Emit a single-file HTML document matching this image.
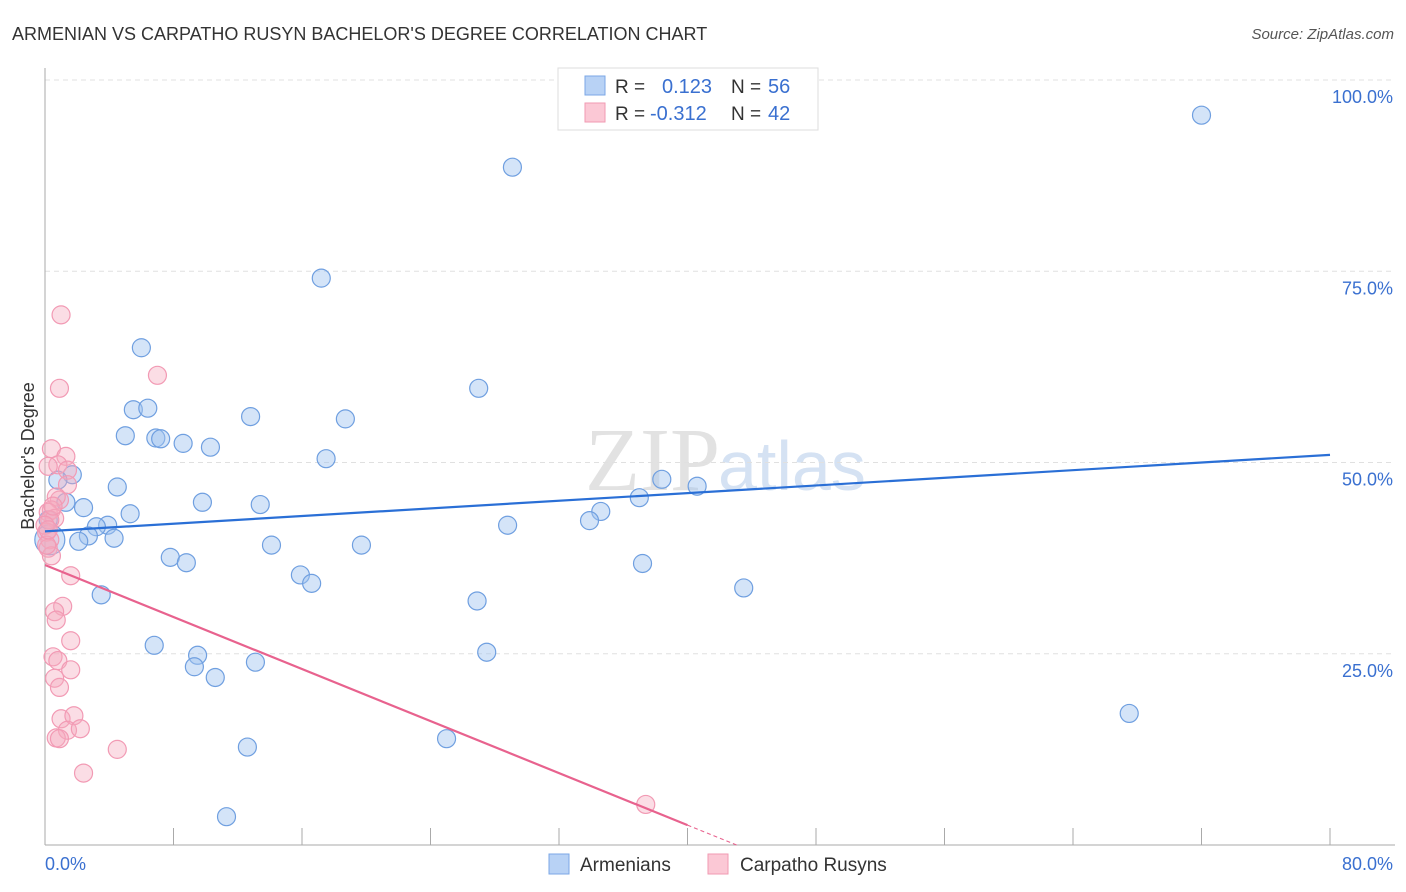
<!DOCTYPE html>
<html><head><meta charset="utf-8"><style>
body{margin:0;background:#fff;font-family:"Liberation Sans",sans-serif;}
svg{display:block}
</style></head><body>
<svg id="chart" width="1406" height="892">
<text x="12" y="40" font-size="18" fill="#333">ARMENIAN VS CARPATHO RUSYN BACHELOR'S DEGREE CORRELATION CHART</text>
<text x="1394" y="39" font-size="15" fill="#555" font-style="italic" text-anchor="end">Source: ZipAtlas.com</text>
<text x="720" y="490" font-size="90" fill="#e2e2e2" font-family="Liberation Serif" text-anchor="end">ZIP</text>
<text x="718" y="490" font-size="70" fill="#d5e2f3">atlas</text>
<text transform="translate(34,456) rotate(-90)" font-size="18" fill="#333" text-anchor="middle">Bachelor's Degree</text>
<g id="grid"></g><g id="pts"></g><g id="lines"></g>
<g>
<rect x="558" y="68" width="260" height="62" fill="#fff" stroke="#ddd"/>
<rect x="585" y="76" width="20" height="19" fill="#b8d2f5" stroke="#7ba7e6"/>
<rect x="585" y="103" width="20" height="19" fill="#fbc8d5" stroke="#f09ab2"/>
<text x="615" y="93" font-size="19" fill="#333">R =</text><text x="662" y="93" font-size="20" fill="#3a70d0">0.123</text>
<text x="731" y="93" font-size="19" fill="#333">N =</text><text x="768" y="93" font-size="20" fill="#3a70d0">56</text>
<text x="615" y="120" font-size="19" fill="#333">R =</text><text x="650" y="120" font-size="20" fill="#3a70d0">-0.312</text>
<text x="731" y="120" font-size="19" fill="#333">N =</text><text x="768" y="120" font-size="20" fill="#3a70d0">42</text>
</g>
<g>
<rect x="549" y="854" width="20" height="20" fill="#b8d2f5" stroke="#7ba7e6"/>
<text x="580" y="871" font-size="19" fill="#333">Armenians</text>
<rect x="708" y="854" width="20" height="20" fill="#fbc8d5" stroke="#f09ab2"/>
<text x="740" y="871" font-size="19" fill="#333">Carpatho Rusyns</text>
</g>
<text x="45" y="870" font-size="18" fill="#3a70d0">0.0%</text>
<text x="1393" y="870" font-size="18" fill="#3a70d0" text-anchor="end">80.0%</text>
</svg>
<script>
const yTicks=[100,75,50,25];
const yTickLabels=["100.0%","75.0%","50.0%","25.0%"];
const xTicks=[8,16,24,32,40,48,56,64,72,80];
const blueX=[72.0,29.1,17.2,6.0,27.0,5.5,6.4,12.8,18.7,5.0,6.9,7.2,8.6,17.5,10.3,1.7,0.8,4.5,9.8,1.3,13.4,2.4,5.3,34.6,37.0,38.4,40.6,33.9,28.8,3.9,3.2,2.7,2.1,4.3,14.1,19.7,7.8,8.8,15.9,16.6,37.2,43.5,3.5,26.9,6.8,9.5,9.3,13.1,10.6,27.5,67.5,25.0,12.6,11.3,0.3,0.2];
const blueY=[95.4,88.6,74.1,65.0,59.7,56.9,57.1,56.0,55.7,53.5,53.2,53.1,52.5,50.5,52.0,48.4,47.7,46.8,44.8,44.8,44.5,44.1,43.3,43.6,45.4,47.8,46.9,42.4,41.8,41.8,41.6,40.4,39.7,40.1,39.2,39.2,37.6,36.9,35.3,34.2,36.8,33.6,32.7,31.9,26.1,24.8,23.3,23.9,21.9,25.2,17.2,13.9,12.8,3.7,39.9,42.5];
const pinkX=[1.0,0.9,7.0,0.4,1.3,0.8,0.2,1.4,1.4,0.9,0.7,0.4,0.2,0.6,0.3,0.1,0.3,0.2,0.4,1.6,1.1,0.6,0.7,1.6,0.5,0.8,1.6,0.6,0.9,1.0,1.8,1.4,2.2,0.7,0.9,2.4,4.5,37.4,0.1,0.5,0.0,0.2];
const pinkY=[69.3,59.7,61.4,51.8,50.8,49.7,49.5,49.0,47.1,45.1,45.5,43.8,43.5,42.7,42.5,40.9,39.9,38.8,37.8,35.2,31.2,30.5,29.4,26.7,24.6,24.1,22.9,21.8,20.6,16.5,16.9,15.0,15.2,14.0,13.9,9.4,12.5,5.3,39.2,44.3,41.8,41.2];
const blueTrend=[41.0,51.0];
const pinkTrend=[36.6,-0.85];
const sx=v=>45+v/80*1285, sy=v=>845-v*7.65;
const NS="http://www.w3.org/2000/svg";
function mk(t,a,p){const e=document.createElementNS(NS,t);for(const k in a)e.setAttribute(k,a[k]);p.appendChild(e);return e;}
const g=document.getElementById('grid');
yTicks.forEach((t,i)=>{const l=mk('line',{x1:45,x2:1395,y1:sy(t),y2:sy(t),stroke:'#e0e0e0','stroke-dasharray':'5,4'},g);


const tx=mk('text',{x:1393,y:sy(t)+23,'font-size':18,fill:'#3a70d0','text-anchor':'end'},g);tx.textContent=yTickLabels[i];

});
const ax=mk('line',{x1:45,x2:1395,y1:845,y2:845,stroke:'#aaa'},g);


const ay=mk('line',{x1:45,x2:45,y1:68,y2:845,stroke:'#aaa'},g);


xTicks.forEach(t=>{const l=mk('line',{x1:sx(t),x2:sx(t),y1:828,y2:845,stroke:'#aaa'},g);

});
const p=document.getElementById('pts');
blueX.forEach((x,i)=>{const c=mk('circle',{cx:sx(x),cy:sy(blueY[i]),r:(i===54?15:9),fill:'rgba(160,195,240,0.45)',stroke:'#6f9fe0','stroke-width':1.2},p);

});
pinkX.forEach((x,i)=>{const c=mk('circle',{cx:sx(x),cy:sy(pinkY[i]),r:9,fill:'rgba(245,170,190,0.4)',stroke:'#f29ab4','stroke-width':1.2},p);

});
const L=document.getElementById('lines');
const bl=mk('line',{x1:sx(0),y1:sy(blueTrend[0]),x2:sx(80),y2:sy(blueTrend[1]),stroke:'#2a6fd6','stroke-width':2.2},L);


const pe=40, pz=-pinkTrend[0]/pinkTrend[1];
const pl=mk('line',{x1:sx(0),y1:sy(pinkTrend[0]),x2:sx(pe),y2:sy(pinkTrend[0]+pinkTrend[1]*pe),stroke:'#e8628e','stroke-width':2.2},L);


const pd=mk('line',{x1:sx(pe),y1:sy(pinkTrend[0]+pinkTrend[1]*pe),x2:sx(pz),y2:sy(0),stroke:'#e8628e','stroke-width':1,'stroke-dasharray':'4,3'},L);


</script>
</body></html>
